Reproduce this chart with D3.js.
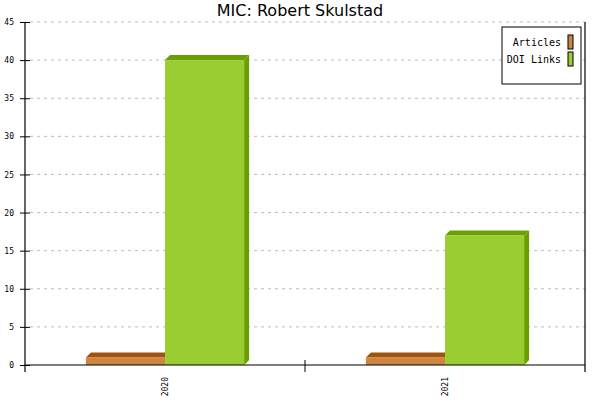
<!DOCTYPE html>
<html>
<head>
<meta charset="utf-8">
<script src="https://cdn.jsdelivr.net/npm/d3@7"></script>
<style>
  body { margin: 0; background: #fff; }
  text { font-family: "DejaVu Sans Mono", monospace; }
</style>
</head>
<body>
<div id="chart"></div>
<script>
const years = ["2020", "2021"]
const series = ["Articles", "DOI Links"]
const articles = [1, 1]
const doiLinks = [40, 17]
const yTicks = [0, 5, 10, 15, 20, 25, 30, 35, 40, 45]

const fronts = ["#CD853F", "#9ACD32"]
const darks = ["#A0550F", "#6B9E00"]

const W = 600, H = 400
const padL = 25, padR = 585, padT = 22, padB = 365
const depth = 5

const svg = d3.select('#chart')
  .append('svg')
  .attr('width', W)
  .attr('height', H)

svg.append('rect').attr('width', W).attr('height', H).style('fill', '#fff')

const y = d3.scaleLinear().domain([0, 45]).range([padB, padT])
const x = d3.scaleBand().domain(years).range([padL, padR])

// grid
svg.selectAll('.grid')
  .data(yTicks.filter(d => d > 0))
  .enter()
  .append('line')
  .attr('x1', padL + 5).attr('x2', padR)
  .attr('y1', d => y(d)).attr('y2', d => y(d))
  .attr('stroke', '#bbb')
  .attr('stroke-dasharray', '3,4')

// bars
const rows = years.map((yr, i) => [articles[i], doiLinks[i]])
const xs = d3.scaleBand().domain(series).range([0, x.bandwidth()]).paddingOuter(0.77).paddingInner(0)

rows.forEach((vals, i) => {
  const g = svg.append('g').attr('transform', `translate(${x(years[i])},0)`)
  vals.forEach((v, j) => {
    const x0 = xs(series[j]), w = xs.bandwidth(), y0 = y(v)
    // side
    g.append('polygon')
      .attr('points', [[x0 + w, y0], [x0 + w + depth, y0 - depth], [x0 + w + depth, padB - depth], [x0 + w, padB]].join(' '))
      .attr('fill', darks[j])
    // top
    g.append('polygon')
      .attr('points', [[x0, y0], [x0 + depth, y0 - depth], [x0 + w + depth, y0 - depth], [x0 + w, y0]].join(' '))
      .attr('fill', darks[j])
    g.append('rect')
      .attr('x', x0).attr('y', y0)
      .attr('width', w).attr('height', padB - y0)
      .attr('fill', fronts[j])
  })
})

// axes
const yAxis = svg.append('g')
  .attr('transform', `translate(${padL},0)`)
  .call(d3.axisLeft(y).tickValues(yTicks).tickSize(5).tickPadding(6))
yAxis.select('.domain').attr('d', `M0,${padT}V${padB + 7}`)
yAxis.selectAll('.tick line').attr('x2', 5).attr('x1', -5)

const yAxisR = svg.append('g')
  .attr('transform', `translate(${padR},0)`)
  .call(d3.axisRight(y).tickValues(yTicks).tickSize(0).tickFormat(''))
yAxisR.select('.domain').attr('d', `M0,${padT}V${padB + 7}`)

const xAxis = svg.append('g')
  .attr('transform', `translate(0,${padB})`)
  .call(d3.axisBottom(x).tickSize(0).tickFormat(''))
xAxis.select('.domain').attr('d', `M${padL},0H${padR}`)

svg.selectAll('.sep')
  .data([padL + x.bandwidth()])
  .enter().append('line')
  .attr('x1', d => d).attr('x2', d => d)
  .attr('y1', padB - 5).attr('y2', padB + 7)
  .attr('stroke', '#000')

svg.selectAll('.domain').attr('stroke', '#000').attr('stroke-width', 1.2)
svg.selectAll('.tick line').attr('stroke', '#000')
svg.selectAll('.tick text').attr('font-size', 8).attr('fill', '#000')

// year labels rotated
svg.selectAll('.yr')
  .data(years)
  .enter()
  .append('text')
  .attr('transform', d => `translate(${x(d) + x.bandwidth() / 2 + 3},${padB + 12}) rotate(-90)`)
  .attr('text-anchor', 'end')
  .attr('font-size', 8)
  .text(d => d)

// title
svg.append('text')
  .attr('x', W / 2).attr('y', 16)
  .attr('text-anchor', 'middle')
  .style('font-family', '"DejaVu Sans", sans-serif')
  .attr('font-size', 16)
  .text('MIC: Robert Skulstad')

// legend
const lg = svg.append('g')
lg.append('rect')
  .attr('x', 502).attr('y', 27).attr('width', 79).attr('height', 57)
  .attr('fill', '#fff').attr('stroke', '#000')
series.forEach((s, i) => {
  lg.append('text')
    .attr('x', 561).attr('y', 46 + i * 17)
    .attr('text-anchor', 'end')
    .attr('font-size', 10)
    .text(s)
  lg.append('rect')
    .attr('x', 568).attr('y', 35 + i * 17).attr('width', 5).attr('height', 14)
    .attr('fill', fronts[i]).attr('stroke', '#000')
})
</script>
</body>
</html>
